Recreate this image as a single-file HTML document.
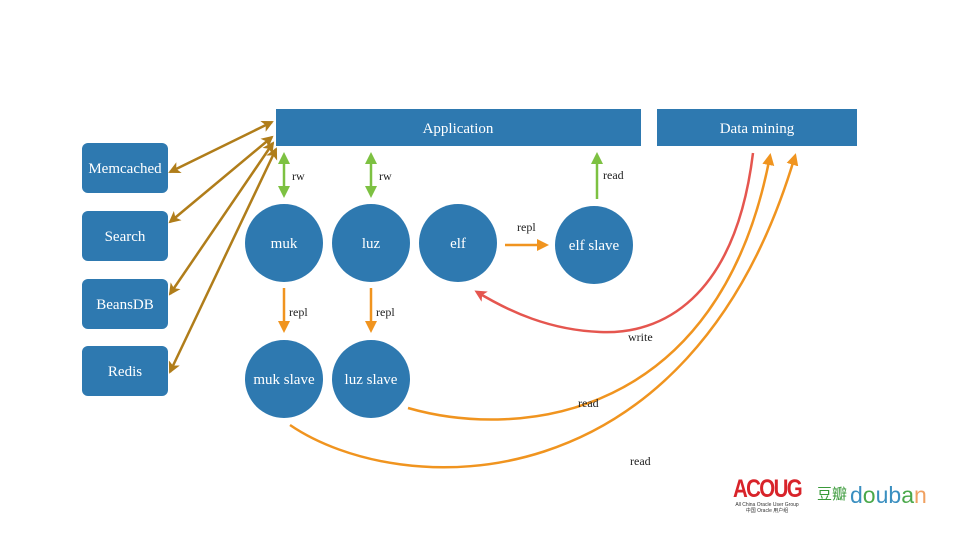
<!DOCTYPE html>
<html><head><meta charset="utf-8"><style>
body{margin:0;background:#fff}
svg{display:block}
text{font-family:"Liberation Serif",serif}
</style></head><body>
<svg width="960" height="540" viewBox="0 0 960 540">
<defs>
<marker id="b" markerWidth="12" markerHeight="12" refX="10" refY="6" orient="auto-start-reverse" markerUnits="userSpaceOnUse"><path d="M0,0 L12,6 L0,12 L3,6z" fill="#b07d1a"/></marker>
<marker id="g" markerWidth="12" markerHeight="12" refX="9" refY="6" orient="auto-start-reverse" markerUnits="userSpaceOnUse"><path d="M0,0 L12,6 L0,12z" fill="#7dc142"/></marker>
<marker id="o" markerWidth="12" markerHeight="12" refX="9" refY="6" orient="auto" markerUnits="userSpaceOnUse"><path d="M0,0 L12,6 L0,12z" fill="#f0941f"/></marker>
<marker id="r" markerWidth="12" markerHeight="12" refX="9" refY="6" orient="auto" markerUnits="userSpaceOnUse"><path d="M0,0 L12,6 L0,12 L3,6z" fill="#e5564f"/></marker>
</defs>
<g fill="#2e79b0">
<rect x="276" y="109" width="365" height="37"/>
<rect x="657" y="109" width="200" height="37"/>
<rect x="82" y="143" width="86" height="50" rx="6"/>
<rect x="82" y="211" width="86" height="50" rx="6"/>
<rect x="82" y="279" width="86" height="50" rx="6"/>
<rect x="82" y="346" width="86" height="50" rx="6"/>
<circle cx="284" cy="243" r="39"/>
<circle cx="371" cy="243" r="39"/>
<circle cx="458" cy="243" r="39"/>
<circle cx="594" cy="245" r="39"/>
<circle cx="284" cy="379" r="39"/>
<circle cx="371" cy="379" r="39"/>
</g>
<g fill="#fff" font-size="15" text-anchor="middle">
<text x="458" y="133">Application</text>
<text x="757" y="133">Data mining</text>
<text x="125" y="173">Memcached</text>
<text x="125" y="241">Search</text>
<text x="125" y="309">BeansDB</text>
<text x="125" y="376">Redis</text>
<text x="284" y="248">muk</text>
<text x="371" y="248">luz</text>
<text x="458" y="248">elf</text>
<text x="594" y="250">elf slave</text>
<text x="284" y="384">muk slave</text>
<text x="371" y="384">luz slave</text>
</g>
<g stroke="#b07d1a" stroke-width="2.5" marker-start="url(#b)" marker-end="url(#b)" fill="none">
<line x1="170" y1="172" x2="272" y2="122"/>
<line x1="170" y1="222" x2="272" y2="137"/>
<line x1="170" y1="294" x2="273" y2="143"/>
<line x1="170" y1="372" x2="276" y2="149"/>
</g>
<g stroke="#7dc142" stroke-width="2.5" fill="none">
<line x1="284" y1="155" x2="284" y2="195" marker-start="url(#g)" marker-end="url(#g)"/>
<line x1="371" y1="155" x2="371" y2="195" marker-start="url(#g)" marker-end="url(#g)"/>
<line x1="597" y1="199" x2="597" y2="155" marker-end="url(#g)"/>
</g>
<g stroke="#f0941f" stroke-width="2.5" fill="none" marker-end="url(#o)">
<line x1="505" y1="245" x2="546" y2="245"/>
<line x1="284" y1="288" x2="284" y2="330"/>
<line x1="371" y1="288" x2="371" y2="330"/>
<path d="M408,408 C520,440 720,420 770,156"/>
<path d="M290,425 C400,500 690,510 795,156"/>
</g>
<path d="M753,153 C735,300 660,335 600,332 C550,330 510,312 477,292" stroke="#e5564f" stroke-width="2.5" fill="none" marker-end="url(#r)"/>
<g fill="#222" font-size="12">
<text x="292" y="180">rw</text>
<text x="379" y="180">rw</text>
<text x="603" y="179">read</text>
<text x="517" y="231">repl</text>
<text x="289" y="316">repl</text>
<text x="376" y="316">repl</text>
<text x="628" y="341">write</text>
<text x="578" y="407">read</text>
<text x="630" y="465">read</text>
</g>
<text x="767" y="497" style="font-family:'Liberation Sans',sans-serif;font-weight:bold;font-size:25px;letter-spacing:-2px" fill="#d8232a" text-anchor="middle" textLength="68" lengthAdjust="spacingAndGlyphs">ACOUG</text>
<text x="767" y="506" style="font-family:'Liberation Sans',sans-serif;font-size:5px" fill="#333" text-anchor="middle">All China Oracle User Group</text>
<text x="767" y="512" style="font-family:'Liberation Sans','Noto Sans CJK SC',sans-serif;font-size:5px" fill="#333" text-anchor="middle">中国 Oracle 用户组</text>
<text x="817" y="499" style="font-family:'Noto Sans CJK SC',sans-serif;font-size:15px" fill="#3a9a3a">豆瓣</text>
<text x="850" y="503" style="font-family:'Liberation Sans',sans-serif;font-size:23px" fill="#3a8fc0">d<tspan fill="#4aa84a">o</tspan>u<tspan fill="#3a8fc0">b</tspan><tspan fill="#4aa84a">a</tspan><tspan fill="#f0a060">n</tspan></text>
</svg>
</body></html>
